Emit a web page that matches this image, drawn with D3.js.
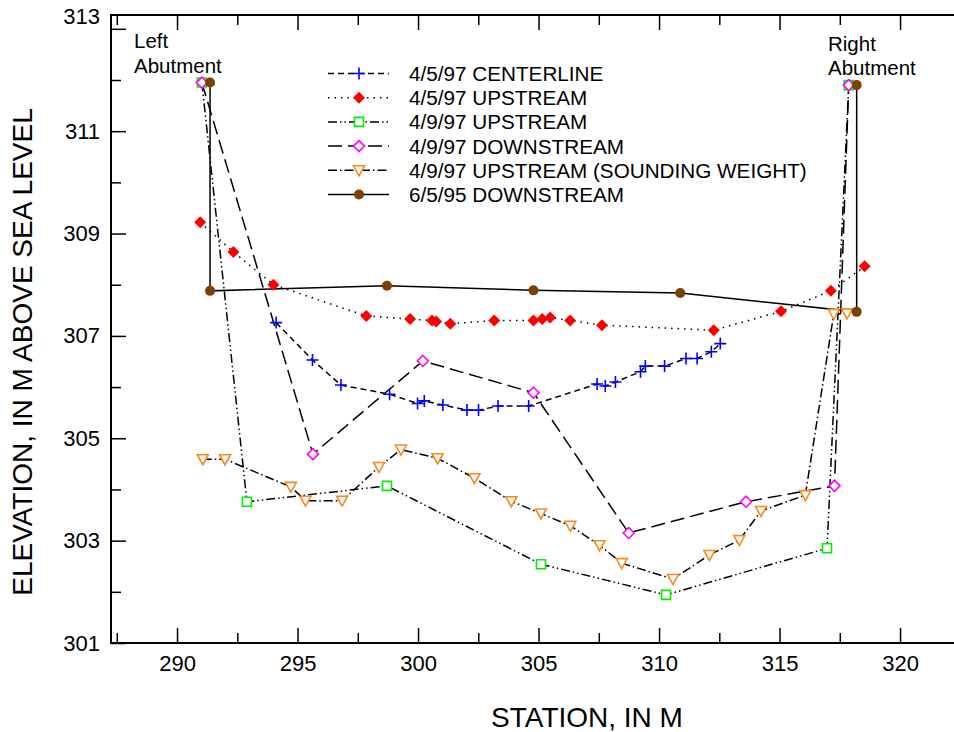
<!DOCTYPE html>
<html>
<head>
<meta charset="utf-8">
<script src="https://cdn.jsdelivr.net/npm/d3@7"></script>
<style>
  body { margin: 0; background: #fff; }
  text { font-family: "Liberation Sans", Arial, sans-serif; fill: #000; }
</style>
</head>
<body>
<script>
// station (m) / elevation (m)
var centerStation = [294.11, 295.62, 296.80, 298.82, 299.98, 300.26, 301.03, 302.03, 302.51, 303.32, 304.59, 307.43, 307.77, 308.19, 309.23, 309.43, 310.23, 311.12, 311.58, 312.17, 312.54];
var centerElev    = [307.26, 306.53, 306.04, 305.86, 305.68, 305.73, 305.65, 305.55, 305.55, 305.63, 305.63, 306.06, 306.02, 306.10, 306.30, 306.41, 306.41, 306.56, 306.56, 306.69, 306.85];

var up45Station = [290.96, 292.34, 294.00, 297.85, 299.67, 300.58, 300.75, 301.34, 303.16, 304.79, 305.15, 305.48, 306.31, 307.63, 312.27, 315.06, 317.13, 318.53];
var up45Elev    = [309.22, 308.64, 308.00, 307.39, 307.33, 307.30, 307.28, 307.24, 307.30, 307.30, 307.33, 307.36, 307.30, 307.21, 307.11, 307.48, 307.88, 308.36];

var up49Station = [291.03, 292.90, 298.71, 305.10, 310.29, 316.97, 317.87];
var up49Elev    = [311.95, 303.76, 304.07, 302.54, 301.94, 302.85, 311.90];

var down49Station = [291.03, 295.64, 300.20, 304.79, 308.74, 313.61, 317.28, 317.87];
var down49Elev    = [311.95, 304.69, 306.51, 305.89, 303.15, 303.76, 304.07, 311.90];

var soundStation = [291.07, 291.99, 294.72, 295.33, 296.85, 298.38, 299.29, 300.81, 302.34, 303.87, 305.10, 306.32, 307.53, 308.45, 310.58, 312.09, 313.33, 314.23, 316.07, 317.25, 317.80];
var soundElev    = [304.59, 304.59, 304.05, 303.78, 303.78, 304.44, 304.78, 304.61, 304.22, 303.77, 303.53, 303.29, 302.91, 302.56, 302.25, 302.72, 303.01, 303.58, 303.89, 307.43, 307.44];

var down95Station = [291.37, 291.37, 298.71, 304.79, 310.88, 318.20, 318.20];
var down95Elev    = [311.95, 307.88, 307.98, 307.89, 307.84, 307.47, 311.90];

var legendLabels = ["4/5/97 CENTERLINE", "4/5/97 UPSTREAM", "4/9/97 UPSTREAM", "4/9/97 DOWNSTREAM", "4/9/97 UPSTREAM (SOUNDING WEIGHT)", "6/5/95 DOWNSTREAM"];
var xMajorTicks = [290, 295, 300, 305, 310, 315, 320];
var xMinorTicks = [287.5, 292.5, 297.5, 302.5, 307.5, 312.5, 317.5, 322.5];
var yMajorTicks = [301, 303, 305, 307, 309, 311, 313];
var yMinorTicks = [302, 304, 306, 308, 310, 312];

var width = 954, height = 732;

var svg = d3.select("body").append("svg")
    .attr("width", width).attr("height", height);

var x = d3.scaleLinear().domain([287.26, 322.28]).range([111, 955]);
var y = d3.scaleLinear().domain([301, 313.27]).range([643, 15]);

// marker shapes
var markers = {
  plus: "M-6,0H6M0,-6V6",
  diamondFill: "M0,-6L6,0L0,6L-6,0Z",
  square: "M-4.5,-4.5H4.5V4.5H-4.5Z",
  diamond: "M0,-5.5L5.5,0L0,5.5L-5.5,0Z",
  triangle: "M-5.5,-4.5H5.5L0,5.5Z"
};

var series = [
  {label: legendLabels[0], st: centerStation, el: centerElev, dash: "6,4", marker: "plus", stroke: "#0000ff", fill: "none"},
  {label: legendLabels[1], st: up45Station, el: up45Elev, dash: "1.5,5", marker: "diamondFill", stroke: "none", fill: "#ff0000"},
  {label: legendLabels[2], st: up49Station, el: up49Elev, dash: "9,3,1.5,3,1.5,3", marker: "square", stroke: "#00ee00", fill: "#fff"},
  {label: legendLabels[3], st: down49Station, el: down49Elev, dash: "14,6", marker: "diamond", stroke: "#ff00ff", fill: "#fff"},
  {label: legendLabels[4], st: soundStation, el: soundElev, dash: "9,3,1.5,3", marker: "triangle", stroke: "#f7891e", fill: "#fff"},
  {label: legendLabels[5], st: down95Station, el: down95Elev, dash: null, marker: "circle", stroke: "none", fill: "#7a4006"}
];

// axes, ticks pointing inside
function styleAxis(g) {
  g.select(".domain").remove();
  g.selectAll("line").attr("stroke", "#000").attr("stroke-width", 1.5);
  g.selectAll("text").style("font-family", "Liberation Sans, Arial, sans-serif").attr("font-size", 22);
}

svg.append("g").attr("transform", "translate(0,643)")
    .call(d3.axisBottom(x).tickValues(xMajorTicks).tickSize(-15).tickPadding(12).tickFormat(d3.format("d")))
    .call(styleAxis);
svg.append("g").attr("transform", "translate(0,643)")
    .call(d3.axisBottom(x).tickValues(xMinorTicks).tickSize(-10).tickFormat(""))
    .call(styleAxis);
svg.append("g").attr("transform", "translate(0,15)")
    .call(d3.axisTop(x).tickValues(xMajorTicks).tickSize(-15).tickFormat(""))
    .call(styleAxis);
svg.append("g").attr("transform", "translate(0,15)")
    .call(d3.axisTop(x).tickValues(xMinorTicks).tickSize(-10).tickFormat(""))
    .call(styleAxis);

var yAxisG = svg.append("g").attr("transform", "translate(111,0)")
    .call(d3.axisLeft(y).tickValues(yMajorTicks).tickSize(-15).tickPadding(11).tickFormat(d3.format("d")))
    .call(styleAxis);
// top label sits flush with the frame in the original
yAxisG.selectAll(".tick text").filter(function(d) { return d === 313; }).attr("transform", "translate(0,-12)");
svg.append("g").attr("transform", "translate(111,0)")
    .call(d3.axisLeft(y).tickValues(yMinorTicks).tickSize(-10).tickFormat(""))
    .call(styleAxis);

// frame
svg.append("rect").attr("x", 111).attr("y", 15).attr("width", 844).attr("height", 628)
    .attr("fill", "none").attr("stroke", "#000").attr("stroke-width", 2);

// series lines
var line = d3.line().x(function(d) { return x(d[0]); }).y(function(d) { return y(d[1]); });

series.forEach(function(s) {
  var pts = d3.zip(s.st, s.el);
  svg.append("path").datum(pts)
      .attr("d", line)
      .attr("fill", "none")
      .attr("stroke", "#000")
      .attr("stroke-width", 1.5)
      .attr("stroke-dasharray", s.dash);
});

function drawMarker(g, s, px, py) {
  if (s.marker === "circle") {
    g.append("circle").attr("cx", px).attr("cy", py).attr("r", 5).attr("fill", s.fill);
  } else {
    g.append("path").attr("d", markers[s.marker])
        .attr("transform", "translate(" + px + "," + py + ")")
        .attr("fill", s.fill)
        .attr("stroke", s.stroke)
        .attr("stroke-width", 1.6);
  }
}

series.forEach(function(s) {
  var g = svg.append("g");
  d3.zip(s.st, s.el).forEach(function(d) {
    drawMarker(g, s, x(d[0]), y(d[1]));
  });
});

// legend
var legend = svg.append("g");
series.forEach(function(s, i) {
  var ly = 73.5 + i * 24.2;
  legend.append("line").attr("x1", 328).attr("x2", 389).attr("y1", ly).attr("y2", ly)
      .attr("stroke", "#000").attr("stroke-width", 1.5).attr("stroke-dasharray", s.dash);
  drawMarker(legend, s, 359, ly);
  legend.append("text").attr("x", 409).attr("y", ly).attr("dy", "0.36em")
      .attr("font-size", 20.7).text(s.label);
});

// abutment notes
svg.append("text").attr("x", 134).attr("y", 48).attr("font-size", 20.5).text("Left");
svg.append("text").attr("x", 134).attr("y", 73).attr("font-size", 20.5).text("Abutment");
svg.append("text").attr("x", 828).attr("y", 51).attr("font-size", 20.5).text("Right");
svg.append("text").attr("x", 828).attr("y", 75).attr("font-size", 20.5).text("Abutment");

// axis titles
svg.append("text").attr("x", 587).attr("y", 727).attr("text-anchor", "middle")
    .attr("font-size", 28).text("STATION, IN M");
svg.append("text").attr("transform", "translate(32,352) rotate(-90)").attr("text-anchor", "middle")
    .attr("font-size", 28).text("ELEVATION, IN M ABOVE SEA LEVEL");
</script>
</body>
</html>
